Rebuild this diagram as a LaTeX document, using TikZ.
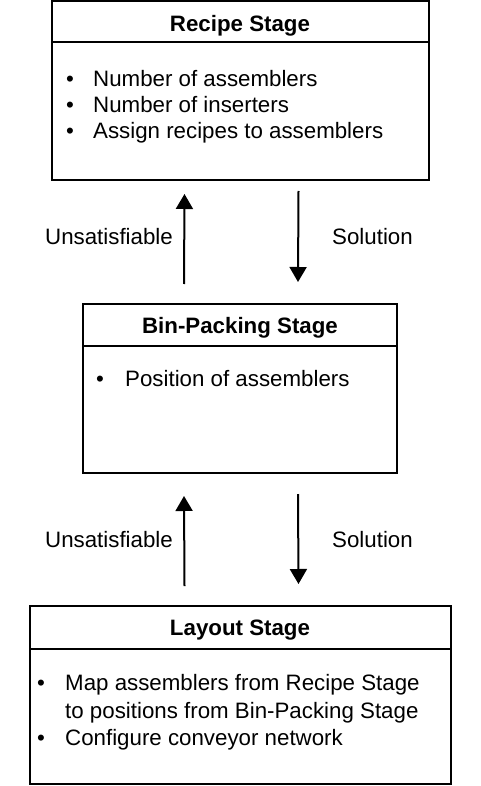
\documentclass[tikz,border=0pt]{standalone}
\usepackage{fontspec}
\setmainfont{Liberation Sans}
\usetikzlibrary{arrows.meta}
\begin{document}
\begin{tikzpicture}[x=1pt,y=-1pt,
  stagebox/.style={draw=black,line width=2pt,rectangle,inner sep=0pt},
  divider/.style={line width=2pt},
  txt/.style={inner sep=0pt,anchor=base west,font=\fontsize{22.3}{26}\selectfont},
  ttl/.style={inner sep=0pt,anchor=base,font=\fontsize{22.3}{26}\selectfont\bfseries},
  bul/.style={inner sep=0pt,anchor=base,font=\fontsize{22.3}{26}\selectfont},
  arr/.style={line width=2pt,-{Triangle[length=15pt,width=17pt]}}]
\useasboundingbox (0,0) rectangle (480,786);
% boxes
\node[stagebox,minimum width=377pt,minimum height=179pt] (recipe) at (240.5,90.5) {};
\node[stagebox,minimum width=314pt,minimum height=169pt] (bin) at (240,388.5) {};
\node[stagebox,minimum width=421pt,minimum height=178pt] (layout) at (240.5,695) {};
\draw[divider] ([yshift=-42pt]recipe.north west) -- ([yshift=-42pt]recipe.north east);
\draw[divider] ([yshift=-43pt]bin.north west) -- ([yshift=-43pt]bin.north east);
\draw[divider] ([yshift=-44pt]layout.north west) -- ([yshift=-44pt]layout.north east);
% titles
\node[ttl] (t1) at (240,32) {Recipe Stage};
\node[ttl] (t2) at (240,333) {Bin-Packing Stage};
\node[ttl] (t3) at (240,635) {Layout Stage};
% recipe items
\node[bul] (b11) at (70,87) {\textbullet};
\node[txt] (i11) at (93,87) {Number of assemblers};
\node[bul] (b12) at (70,113) {\textbullet};
\node[txt] (i12) at (93,113) {Number of inserters};
\node[bul] (b13) at (70,139) {\textbullet};
\node[txt] (i13) at (93,139) {Assign recipes to assemblers};
% bin items
\node[bul] (b21) at (100,386) {\textbullet};
\node[txt] (i21) at (125,386) {Position of assemblers};
% layout items
\node[bul] (b31) at (41,690) {\textbullet};
\node[txt] (i31) at (65,690) {Map assemblers from Recipe Stage};
\node[txt] (i32) at (65,718) {to positions from Bin-Packing Stage};
\node[bul] (b33) at (41,745) {\textbullet};
\node[txt] (i33) at (65,745) {Configure conveyor network};
% arrows
\draw[arr] ([xshift=-56pt,yshift=19pt]bin.north) -- ([xshift=-56pt,yshift=-13pt]recipe.south);
\draw[arr] ([xshift=58pt,yshift=-10pt]recipe.south) -- ([xshift=58pt,yshift=21pt]bin.north);
\draw[arr] ([xshift=-56pt,yshift=19pt]layout.north) -- ([xshift=-56pt,yshift=-22pt]bin.south);
\draw[arr] ([xshift=58pt,yshift=-20pt]bin.south) -- ([xshift=58pt,yshift=21pt]layout.north);
% labels
\node[txt] (u1) at (45,244) {Unsatisfiable};
\node[txt] (s1) at (332,244) {Solution};
\node[txt] (u2) at (45,547) {Unsatisfiable};
\node[txt] (s2) at (332,547) {Solution};
\end{tikzpicture}
\end{document}
